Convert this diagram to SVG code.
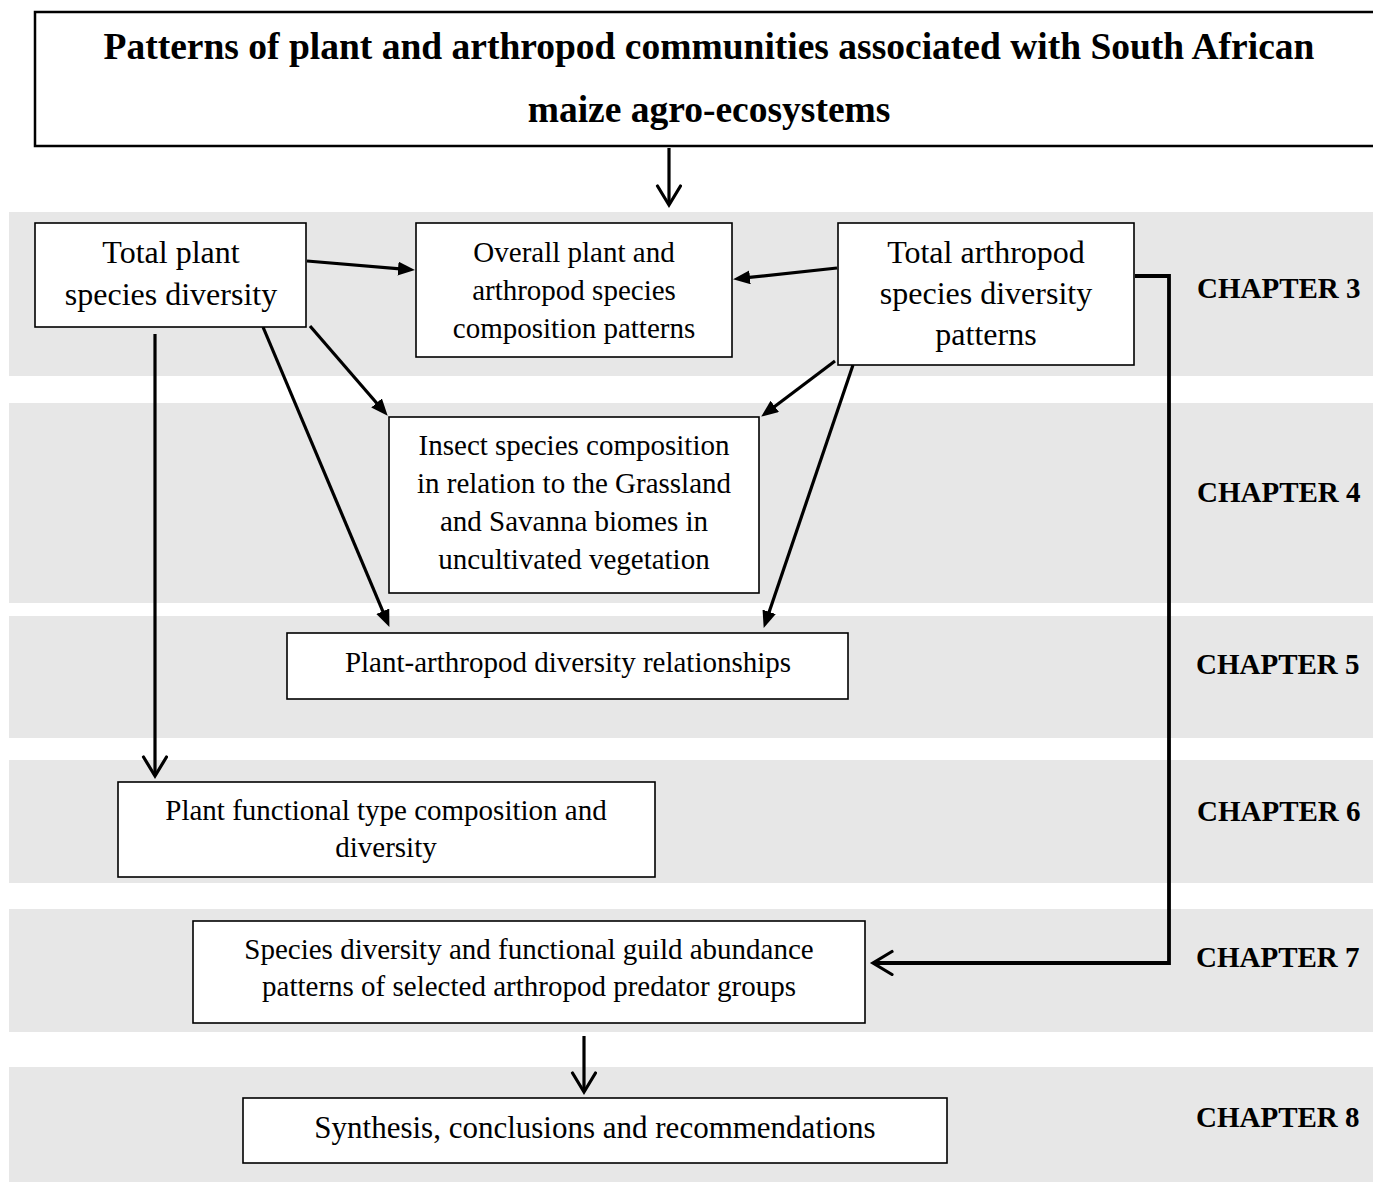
<svg xmlns="http://www.w3.org/2000/svg" width="1373" height="1182" viewBox="0 0 1373 1182">
<defs>
<style>
.band{fill:#e7e7e7;stroke:none}
.box{fill:#fff;stroke:#000;stroke-width:1.6}
.title{fill:#fff;stroke:#000;stroke-width:2.5}
text{font-family:"Liberation Serif","Times New Roman",serif;fill:#000;text-anchor:middle}
.tt{font-size:37.5px;font-weight:bold}
.big{font-size:32px}
.med{font-size:29px}
.syn{font-size:31px}
.ch{font-size:29px;font-weight:bold;text-anchor:start}
.ln{fill:none;stroke:#000;stroke-width:3.2}
.fa{marker-end:url(#fill)}
.oa{marker-end:url(#open)}
</style>
<marker id="fill" markerUnits="userSpaceOnUse" markerWidth="20" markerHeight="16" refX="8" refY="7" orient="auto">
<path d="M0,0 L17,7 L0,14 z" fill="#000"/>
</marker>
<marker id="open" markerUnits="userSpaceOnUse" markerWidth="26" markerHeight="28" refX="21" refY="13" orient="auto">
<path d="M2,1.5 L21,13 L2,24.5" fill="none" stroke="#000" stroke-width="3.2" stroke-linejoin="miter" stroke-linecap="round"/>
</marker>
</defs>

<g id="bands">
<rect class="band" x="9" y="212" width="1364" height="164"/>
<rect class="band" x="9" y="403" width="1364" height="200"/>
<rect class="band" x="9" y="616" width="1364" height="122"/>
<rect class="band" x="9" y="760" width="1364" height="123"/>
<rect class="band" x="9" y="909" width="1364" height="123"/>
<rect class="band" x="9" y="1067" width="1364" height="115"/>
</g>

<g id="chapters">
<text class="ch" x="1197" y="298">CHAPTER 3</text>
<text class="ch" x="1197" y="502">CHAPTER 4</text>
<text class="ch" x="1196" y="674">CHAPTER 5</text>
<text class="ch" x="1197" y="821">CHAPTER 6</text>
<text class="ch" x="1196" y="967">CHAPTER 7</text>
<text class="ch" x="1196" y="1127">CHAPTER 8</text>
</g>

<g id="title">
<rect class="title" x="35" y="12" width="1350" height="134"/>
<text class="tt" x="709" y="59">Patterns of plant and arthropod communities associated with South African</text>
<text class="tt" x="709" y="122">maize agro-ecosystems</text>
</g>

<g id="connectors">
<path class="ln oa" d="M669,148 L669,205"/>
<path class="ln fa" d="M307,261 L406,269.3"/>
<path class="ln fa" d="M837,268 L742,278.2"/>
<path class="ln oa" d="M155,334 L155,776"/>
<path class="ln fa" d="M310,326 L381.8,409"/>
<path class="ln fa" d="M263,327 L385.9,618.6"/>
<path class="ln fa" d="M835,361 L768.4,411.2"/>
<path class="ln fa" d="M853,365 L766.6,619.4"/>
<path class="ln oa" d="M1135,276 L1169,276 L1169,963 L873,963" style="stroke-width:3.8"/>
<path class="ln oa" d="M584,1036 L584,1092"/>
</g>

<g id="n-plant">
<rect class="box" x="35" y="223" width="271" height="104"/>
<text class="big" x="171" y="263">Total plant</text>
<text class="big" x="171" y="305">species diversity</text>
</g>

<g id="n-overall">
<rect class="box" x="416" y="223" width="316" height="134"/>
<text class="med" x="574" y="262">Overall plant and</text>
<text class="med" x="574" y="300">arthropod species</text>
<text class="med" x="574" y="338">composition patterns</text>
</g>

<g id="n-arthropod">
<rect class="box" x="838" y="223" width="296" height="142"/>
<text class="big" x="986" y="263">Total arthropod</text>
<text class="big" x="986" y="304">species diversity</text>
<text class="big" x="986" y="345">patterns</text>
</g>

<g id="n-insect">
<rect class="box" x="389" y="417" width="370" height="176"/>
<text class="med" x="574" y="455">Insect species composition</text>
<text class="med" x="574" y="493">in relation to the Grassland</text>
<text class="med" x="574" y="531">and Savanna biomes in</text>
<text class="med" x="574" y="569">uncultivated vegetation</text>
</g>

<g id="n-relationships">
<rect class="box" x="287" y="633" width="561" height="66"/>
<text class="med" x="568" y="672">Plant-arthropod diversity relationships</text>
</g>

<g id="n-functional">
<rect class="box" x="118" y="782" width="537" height="95"/>
<text class="med" x="386" y="820">Plant functional type composition and</text>
<text class="med" x="386" y="857">diversity</text>
</g>

<g id="n-predators">
<rect class="box" x="193" y="921" width="672" height="102"/>
<text class="med" x="529" y="959">Species diversity and functional guild abundance</text>
<text class="med" x="529" y="996">patterns of selected arthropod predator groups</text>
</g>

<g id="n-synthesis">
<rect class="box" x="243" y="1098" width="704" height="65"/>
<text class="syn" x="595" y="1138">Synthesis, conclusions and recommendations</text>
</g>
</svg>
